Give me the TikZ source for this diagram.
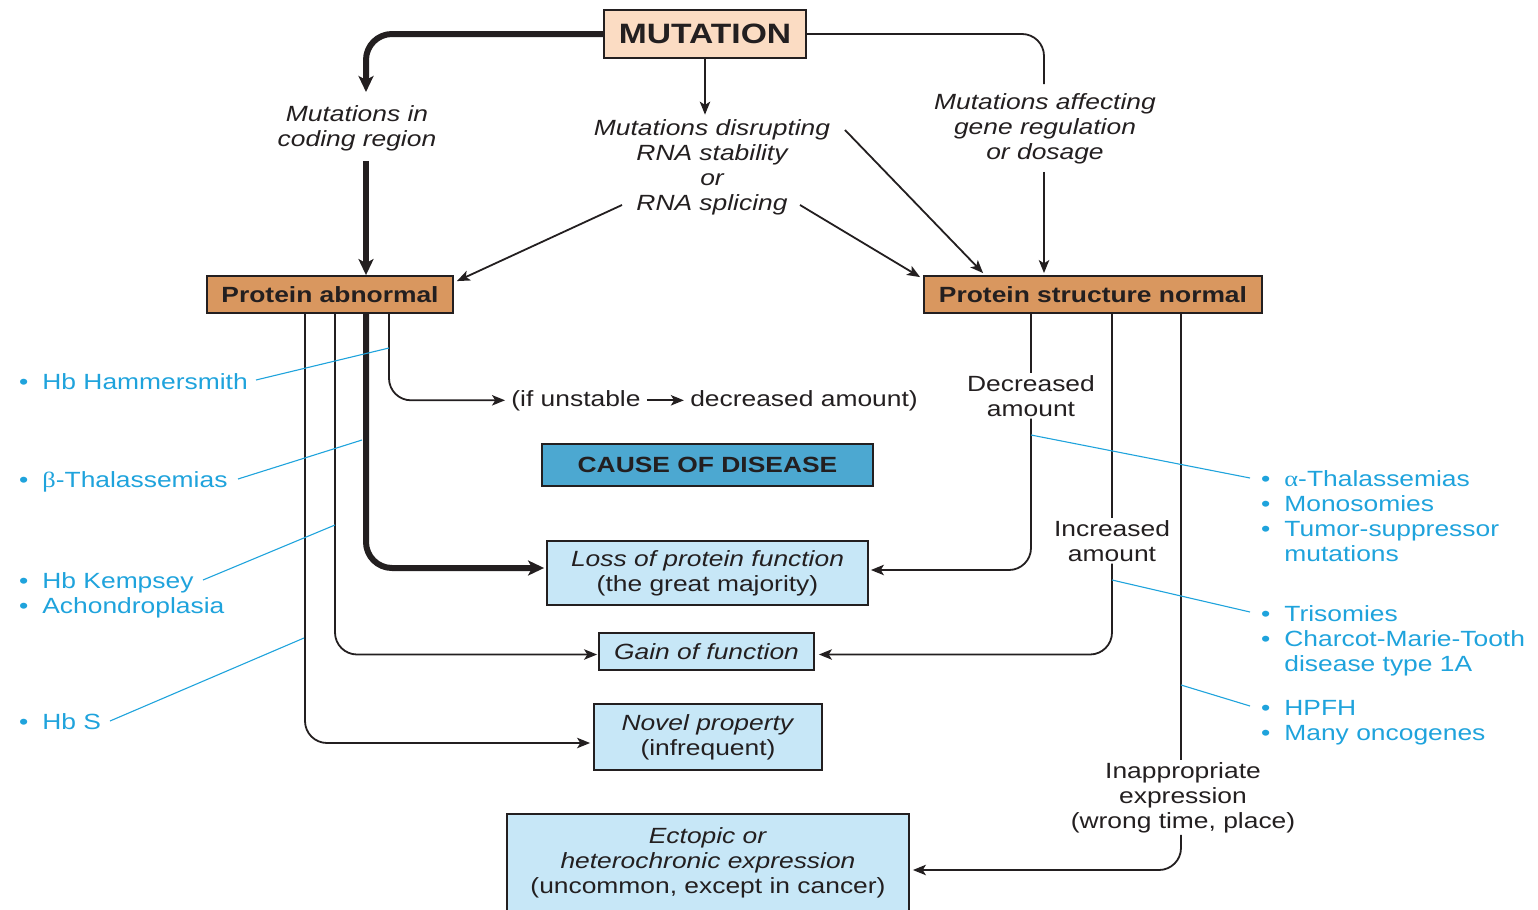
\documentclass[tikz,border=0pt]{standalone}
\usepackage{fontspec}
\setmainfont{Liberation Sans}[FakeStretch=1.2]
\newfontfamily\greekfont{Liberation Serif}[FakeStretch=1.2]
\usetikzlibrary{arrows.meta,calc}

\definecolor{ink}{HTML}{231F20}
\definecolor{peach}{HTML}{FBDCC3}
\definecolor{tan}{HTML}{D9975F}
\definecolor{causeblue}{HTML}{4CA8D1}
\definecolor{paleblue}{HTML}{C7E7F7}
\definecolor{notecyan}{HTML}{1FA3DC}

\begin{document}
\begin{tikzpicture}[x=0.5pt,y=-0.5pt,
  every node/.style={font=\fontsize{11}{12.5}\selectfont, text=ink},
  box/.style={draw=ink, line width=0.9pt, inner sep=0pt, align=center},
  mutbox/.style={box, fill=peach, minimum width=101pt, minimum height=24pt,
    font=\fontsize{14}{16}\selectfont\bfseries},
  protbox/.style={box, fill=tan, minimum height=18.5pt, font=\fontsize{11}{12.5}\selectfont\bfseries},
  causebox/.style={box, fill=causeblue, minimum width=165.5pt, minimum height=21pt,
    font=\fontsize{11}{12.5}\selectfont\bfseries},
  effbox/.style={box, fill=paleblue},
  lbl/.style={align=center, inner sep=1pt},
  itlbl/.style={lbl, font=\fontsize{11}{12.5}\selectfont\itshape},
  note/.style={text=notecyan, align=left, inner sep=0pt, anchor=base west},
  conn/.style={draw=ink, line width=0.9pt, rounded corners=11pt},
  tip/.style={-{Stealth[length=6.5pt,width=5.2pt,inset=1.6pt]}},
  heavy/.style={draw=ink, line width=3pt, rounded corners=13pt,
    -{Stealth[length=8pt,width=7.5pt,inset=2pt]}},
  pointer/.style={draw=notecyan, line width=0.55pt}
]
\useasboundingbox (0,0) rectangle (1538,910);

% --- boxes ---
\node[mutbox] (mut) at (705,34) {MUTATION};
\node[protbox, minimum width=123pt] (pa) at (330,294.5) {Protein abnormal};
\node[protbox, minimum width=169pt] (psn) at (1093,294.5) {Protein structure normal};
\node[causebox] (cause) at (707.5,465) {CAUSE OF DISEASE};
\node[effbox, minimum width=160.5pt, minimum height=32pt] (loss) at (707.5,573)
  {\textit{Loss of protein function}\\(the great majority)};
\node[effbox, minimum width=107.5pt, minimum height=18.5pt] (gain) at (706.5,651.5)
  {\textit{Gain of function}};
\node[effbox, minimum width=114pt, minimum height=33pt] (novel) at (708,737)
  {\textit{Novel property}\\(infrequent)};
\node[effbox, minimum width=201pt, minimum height=49pt] (ect) at (708,863)
  {\textit{Ectopic or}\\\textit{heterochronic expression}\\(uncommon, except in cancer)};

% --- labels on the paths (base = baseline of the last line) ---
\node[itlbl, anchor=base] (codlbl) at (357,146) {Mutations in\\coding region};
\node[itlbl, anchor=base] (rnalbl) at (712,210) {Mutations disrupting\\RNA stability\\or\\RNA splicing};
\node[itlbl, anchor=base] (reglbl) at (1045,159) {Mutations affecting\\gene regulation\\or dosage};
\node[lbl, inner sep=3pt, anchor=base] (unst1) at (576,406) {(if unstable};
\node[lbl, inner sep=3pt, anchor=base] (unst2) at (804,406) {decreased amount)};
\node[lbl, anchor=base] (declbl) at (1031,416) {Decreased\\amount};
\node[lbl, anchor=base] (inclbl) at (1112,561) {Increased\\amount};
\node[lbl, anchor=base] (inaplbl) at (1183,828) {Inappropriate\\expression\\(wrong time, place)};

% --- from MUTATION ---
\coordinate (k1) at (366,92);
\draw[heavy] (mut.west) -| (k1);
\draw[heavy] ($(codlbl.south -| k1)+(0,8)$) -- (pa.north -| k1);

\draw[conn, tip] (mut.south) -- ($(mut.south |- rnalbl.north)+(0,-2)$);
\coordinate (r1) at (622,205);
\coordinate (r2) at (800,205);
\coordinate (r3) at (845,130);
\draw[conn, tip] (r1) -- ($(pa.north east)+(3,6)$);
\draw[conn, tip] (r2) -- ($(psn.north west)+(-3,2)$);
\draw[conn, tip] (r3) -- ($(psn.north west)+(60,-2)$);

\coordinate (g1) at (1044,84);
\draw[conn] (mut.east) -| (g1);
\draw[conn, tip] ($(reglbl.south -| g1)+(0,6)$) -- ($(psn.north -| g1)+(0,-2)$);

% --- branches of the abnormal protein ---
\coordinate (b1) at (389,313);
\coordinate (b2) at (366,313);
\coordinate (b3) at (335,313);
\coordinate (b4) at (305,313);
\draw[conn, tip] (b1) |- (unst1.west);
\draw[conn, tip] (unst1.east) -- (unst2.west);
\draw[heavy] (b2) |- ($(loss.west)+(-2,-5)$);
\draw[conn, tip] (b3) |- ($(gain.west)+(-1,3)$);
\draw[conn, tip] (b4) |- ($(novel.west)+(-3,6)$);

% --- branches of the normal protein ---
\coordinate (s1) at (1031,313);
\coordinate (s2) at (1112,313);
\coordinate (s3) at (1181,313);
\draw[conn] (s1) -- (declbl.north -| s1);
\draw[conn, tip] (declbl.south -| s1) |- ($(loss.east)+(2,-3)$);
\draw[conn] (s2) -- (inclbl.north -| s2);
\draw[conn, tip] (inclbl.south -| s2) |- ($(gain.east)+(4,3)$);
\draw[conn] (s3) -- (inaplbl.north -| s3);
\draw[conn, tip] (inaplbl.south -| s3) |- ($(ect.east)+(3,7)$);

% --- disease examples (base = baseline of the last line) ---
\node[note] (n1) at (42,389) {\llap{•\hspace{7pt}}Hb Hammersmith};
\node[note] (n2) at (42,487) {\llap{•\hspace{7pt}}{\greekfont β}-Thalassemias};
\node[note] (n3) at (42,613) {\llap{•\hspace{7pt}}Hb Kempsey\\\llap{•\hspace{7pt}}Achondroplasia};
\node[note] (n4) at (42,729) {\llap{•\hspace{7pt}}Hb S};
\node[note] (m1) at (1284,561) {\llap{•\hspace{7pt}}{\greekfont α}-Thalassemias\\\llap{•\hspace{7pt}}Monosomies\\\llap{•\hspace{7pt}}Tumor-suppressor\\mutations};
\node[note] (m2) at (1284,671) {\llap{•\hspace{7pt}}Trisomies\\\llap{•\hspace{7pt}}Charcot-Marie-Tooth\\disease type 1A};
\node[note] (m3) at (1284,740) {\llap{•\hspace{7pt}}HPFH\\\llap{•\hspace{7pt}}Many oncogenes};

\coordinate (p1) at (256,380);
\coordinate (p2) at (238,479);
\coordinate (p3) at (203,580);
\coordinate (p4) at (110,721);
\draw[pointer] (p1) -- (389,348);
\draw[pointer] (p2) -- (362,440);
\draw[pointer] (p3) -- (335,525);
\draw[pointer] (p4) -- (304,638);
\coordinate (q1) at (1250,478);
\coordinate (q2) at (1250,612);
\coordinate (q3) at (1250,706);
\draw[pointer] (1031,435) -- (q1);
\draw[pointer] (1112,580) -- (q2);
\draw[pointer] (1181,685) -- (q3);
\end{tikzpicture}
\end{document}
